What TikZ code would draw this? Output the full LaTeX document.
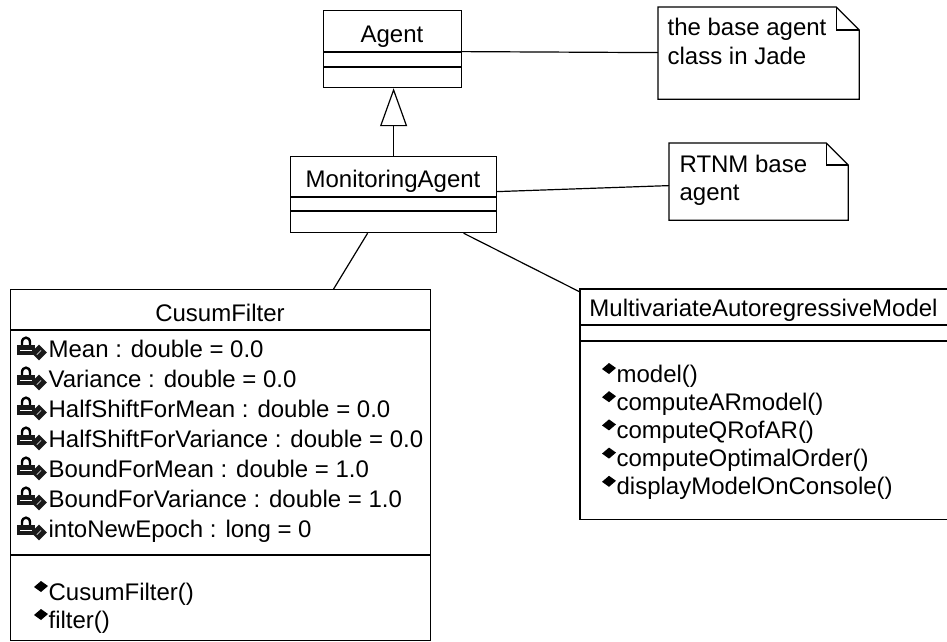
\documentclass[tikz,border=0pt]{standalone}
\usepackage{fontspec}
\setmainfont{Liberation Sans}
\usepackage{tikz}
\usetikzlibrary{arrows.meta,calc,positioning,shapes.geometric}

\tikzset{
	classbox/.style={draw,rectangle,anchor=north west,inner sep=0pt},
	notebox/.style={rectangle,anchor=north west,inner sep=0pt},
	umltext/.style={inner sep=0pt,anchor=base west},
	umltitle/.style={inner sep=0pt,anchor=base},
	inherit/.style={-{Triangle[open,length=38pt,width=27pt]}},
	opmark/.pic={
		\fill (-7,1) -- (0,-5) -- (7,0) -- (0,6) -- cycle;
	},
	privattr/.pic={
		\draw[line width=2.4pt] (-9,1) -- (-9,-3) .. controls (-9,-9.5) and (-1,-9.5) .. (-1,-3) -- (-1,1);
		\fill[black!90] (-14,-0.5) rectangle (4,9.5);
		\draw[white,line width=0.7pt] (-11,4.5) -- (1,4.5);
		\fill[black!90,rotate around={45:(8,7)}] (2.5,1.5) rectangle (13.5,12.5);
		\draw[white,line width=0.6pt,rotate around={45:(8,7)}] (5,7) -- (11,7);
	}
}
\newcommand{\notefold}[2]{%
	\draw (#1.north west) -- ([xshift=-#2]#1.north east) -- ([yshift=-#2]#1.north east) -- (#1.south east) -- (#1.south west) -- cycle;
	\draw ([xshift=-#2]#1.north east) |- ([yshift=-#2]#1.north east);}

\begin{document}
\begin{tikzpicture}[x=1pt,y=-1pt,line width=1.2pt,font=\fontsize{24}{29}\selectfont]
	\useasboundingbox (0,0) rectangle (947,641);

	% class boxes
	\node[classbox,minimum width=138pt,minimum height=77pt] (agent) at (323,10) {};
	\draw (323,52) -- (461,52) (323,67) -- (461,67);
	\node[umltitle] (agentname) at (392,42) {Agent};

	\node[classbox,minimum width=206pt,minimum height=76pt] (monitor) at (290,156) {};
	\draw (290,197) -- (496,197) (290,211) -- (496,211);
	\node[umltitle] (monitorname) at (393,187) {MonitoringAgent};

	\node[classbox,minimum width=420pt,minimum height=351pt] (cusum) at (10,289) {};
	\draw (10,330) -- (430,330) (10,555) -- (430,555);
	\node[umltitle] (cusumname) at (220,321) {CusumFilter};

	\node[notebox,minimum width=367pt,minimum height=229pt] (mar) at (580,289) {};
	\draw (mar.north east) -- (mar.north west) -- (mar.south west) -- (mar.south east);
	\draw (580,325) -- (947,325) (580,341) -- (947,341);
	\node[umltitle] (marname) at (763.5,316) {MultivariateAutoregressiveModel};

	% attributes and operations
	\foreach \attr [count=\i from 0] in {Mean : double = 0.0, Variance : double = 0.0, HalfShiftForMean : double = 0.0, HalfShiftForVariance : double = 0.0, BoundForMean : double = 1.0, BoundForVariance : double = 1.0, intoNewEpoch : long = 0} {
		\pic at (31,345.5+30*\i) {privattr};
		\node[umltext] (attr\i) at (48,357+30*\i) {\attr};
	}
	\foreach \op [count=\i from 0] in {CusumFilter(), filter()} {
		\pic at (41,586+28*\i) {opmark};
		\node[umltext] (cname\i) at (48,600+28*\i) {\op};
	}
	\foreach \op [count=\i from 0] in {model(), computeARmodel(), computeQRofAR(), computeOptimalOrder(), displayModelOnConsole()} {
		\pic at (609,368+28.2*\i) {opmark};
		\node[umltext] (mname\i) at (616,382+28.2*\i) {\op};
	}

	% notes
	\node[notebox,minimum width=200pt,minimum height=91pt] (note1) at (658,7) {};
	\notefold{note1}{23pt}
	\node[umltext] (note1a) at (667,35) {the base agent};
	\node[umltext] (note1b) at (667,64) {class in Jade};

	\node[notebox,minimum width=178pt,minimum height=76pt] (note2) at (669,143) {};
	\notefold{note2}{22pt}
	\node[umltext] (note2a) at (679,172) {RTNM base};
	\node[umltext] (note2b) at (679,200) {agent};

	% connectors
	\draw[inherit] (monitor.north) -- (monitor.north |- agent.south);
	\draw ([yshift=-2.5pt]agent.east) -- ([yshift=0.5pt]note1.west);
	\draw ([yshift=3pt]monitor.east) -- ([yshift=-4pt]note2.west);
	\draw ([xshift=-26pt]monitor.south) -- ([xshift=113pt]cusum.north);
	\draw ([xshift=70pt]monitor.south) -- ([yshift=-3pt]mar.north west);
\end{tikzpicture}
\end{document}
